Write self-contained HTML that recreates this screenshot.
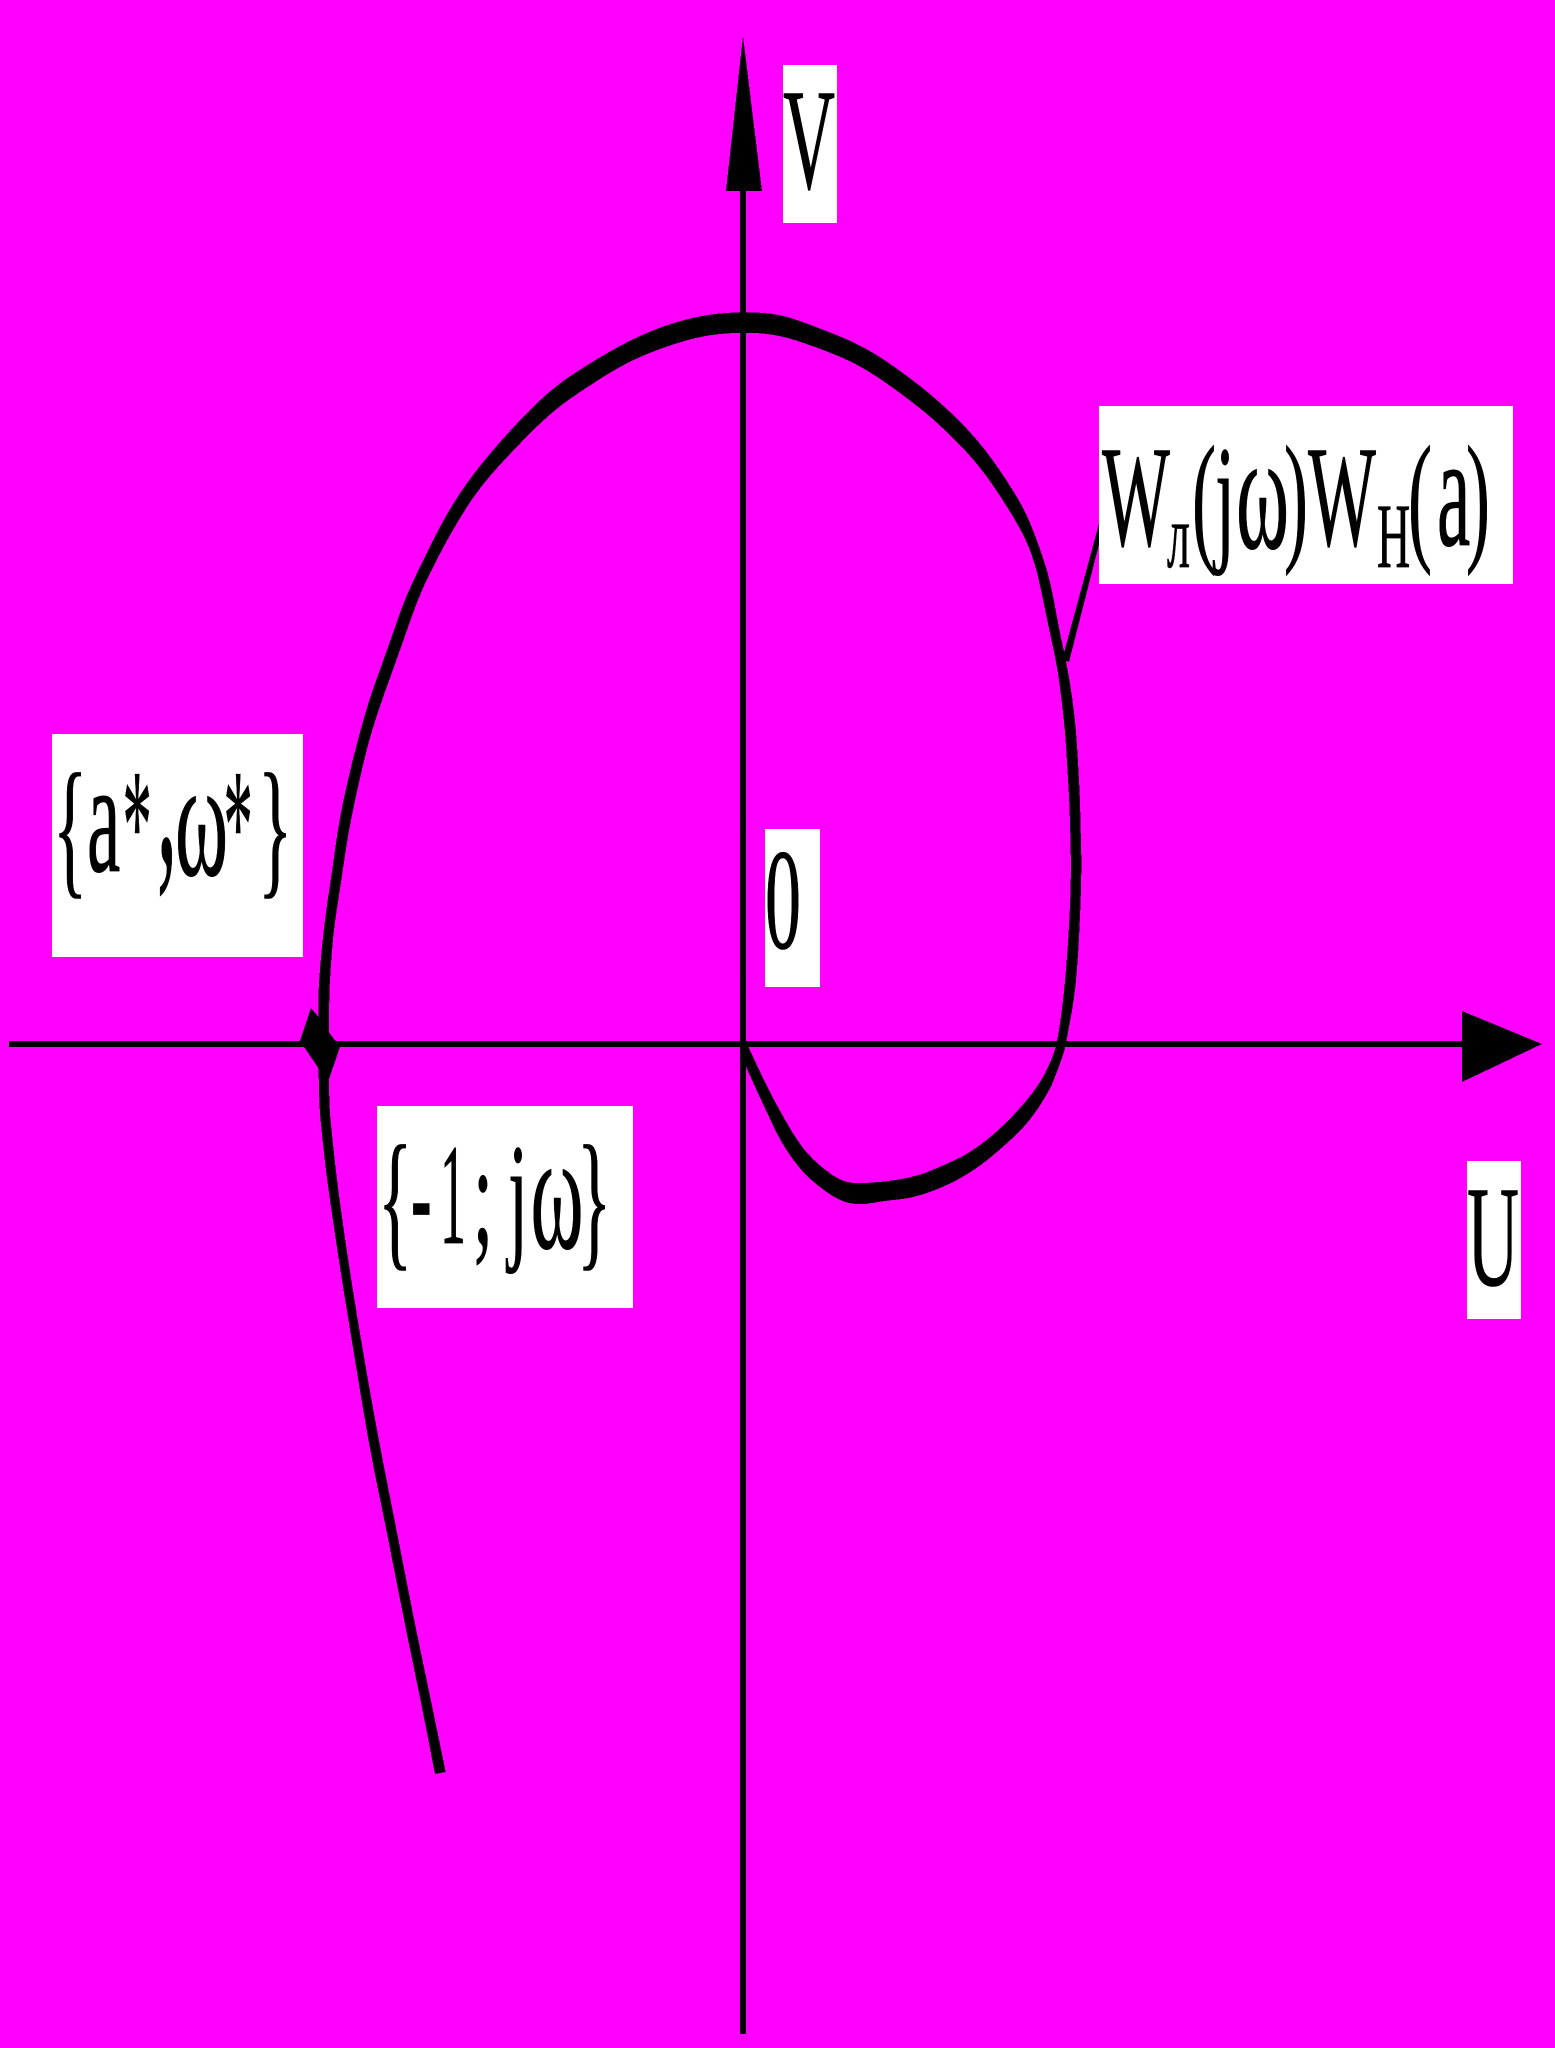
<!DOCTYPE html>
<html><head><meta charset="utf-8"><style>
html,body{margin:0;padding:0;background:#f0f}
svg{display:block}
text{font-family:"Liberation Serif","DejaVu Serif",serif;fill:#000;stroke:#000;stroke-width:.8px;font-size:144px;text-rendering:geometricPrecision}
</style></head><body>
<svg xmlns="http://www.w3.org/2000/svg" width="1555" height="2048" viewBox="0 0 1555 2048">
<rect width="1555" height="2048" fill="#f0f"/>
<g shape-rendering="crispEdges" fill="#000">
<rect x="740" y="150" width="6" height="1884"/>
<rect x="9" y="1041" width="1455" height="6"/>
<polygon points="743,36 762,191 726,191"/>
<polygon points="1462,1011 1542,1044 1462,1082"/>
<polygon points="1100,520 1105,521 1069,662 1062,660"/>
<polygon points="311,1008 300,1041 317,1066 327,1085 340,1047 328,1031 317,1015"/>
<path d="M435,1774 L428.5,1740.5 Q422,1707 413,1663.5 Q404,1620 395.6,1577 Q387.3,1534 378.3,1490.5 Q369.3,1447 362.2,1403.5 Q355,1360 347.9,1316.5 Q340.7,1273 334.4,1230 Q328,1187 325.2,1163.5 Q322.5,1140 320.6,1120 Q318.7,1100 318.4,1050 Q318,1000 319,983.5 Q320,967 321.7,950 Q323.3,933 325.5,916.5 Q327.7,900 330.2,883.5 Q332.7,867 335,850 Q337.3,833 340.3,816.5 Q343.3,800 349.2,775 Q355,750 362,725 Q369,700 375,683.5 Q381,667 387,650 Q393,633 398.75,616.5 Q404.5,600 412.2,583.3 Q420,566.7 433.3,540 Q446.7,513.3 460,493.3 Q473.3,473.3 492.5,450.8 Q511.7,428.3 530.8,409.2 Q550,390 568.3,377.5 Q586.7,365 608.3,352.5 Q630,340 649.2,332 Q668.3,324 687.5,319.2 Q706.7,314.3 725.8,313 Q745,311.7 762.8,312.9 Q780.7,314 800.3,321.2 Q820,328.3 841.7,337.2 Q863.3,346 883.3,359.3 Q903.3,372.7 922.5,388 Q941.7,403.3 960,421.7 Q978.3,440 992.5,460 Q1006.7,480 1016.7,496.7 Q1026.7,513.3 1034.2,533.3 Q1041.7,553.3 1045.8,566.7 Q1050,580 1054.7,605 Q1059.3,630 1063.3,648.5 Q1067.3,667 1070,683.5 Q1072.7,700 1074.5,716.5 Q1076.3,733 1077.3,750 Q1078.3,767 1079.2,783.5 Q1080,800 1080.4,816.5 Q1080.7,833 1081.2,850 Q1081.5,867 1081.1,883.5 Q1080.7,900 1080,916.5 Q1079.3,933 1078.3,950 Q1077.3,967 1075.7,983.5 Q1074,1000 1071.2,1015 Q1068.3,1030 1066.7,1040 Q1065,1050 1061.3,1060 Q1057.7,1070 1053.8,1080 Q1050,1090 1039.2,1106.7 Q1028.3,1123.3 1015,1135.8 Q1001.7,1148.3 988.3,1159.2 Q975,1170 960,1178.3 Q945,1186.7 928.3,1192.5 Q911.7,1198.3 898.3,1199.5 Q885,1200.7 873.3,1202.8 Q861.7,1205 850.8,1203.3 Q840,1201.7 825,1190.8 Q810,1180 800.8,1169.2 Q791.7,1158.3 785,1147.5 Q778.3,1136.7 771.7,1122.5 Q765,1108.3 755.8,1088.3 L746.7,1068.3 L741,1046 L745,1042 L748.3,1046.7 L759.2,1070 Q770,1093.3 784.2,1118.3 Q798.3,1143.3 808.3,1154.2 Q818.3,1165 830,1173.3 Q841.7,1181.7 851.7,1182.8 Q861.7,1184 886.7,1181.2 Q911.7,1178.3 928.3,1171.7 Q945,1165 960,1157.5 Q975,1150 991.7,1135.8 Q1008.3,1121.7 1023.3,1104.2 Q1038.3,1086.7 1045,1073.3 Q1051.7,1060 1054.7,1050 Q1057.7,1040 1060.5,1020 Q1063.3,1000 1064.8,983.5 Q1066.3,967 1067.5,950 Q1068.7,933 1069.5,916.5 Q1070.3,900 1070.7,883.5 Q1071,867 1070.7,850 Q1070.3,833 1069.8,816.5 Q1069.3,800 1068.3,783.5 Q1067.3,767 1066.3,750 Q1065.3,733 1063.5,716.5 Q1061.7,700 1059.5,683.5 Q1057.3,667 1053.3,648.5 Q1049.3,630 1045.5,611.7 Q1041.7,593.3 1039.2,581.7 Q1036.7,570 1031.7,555 Q1026.7,540 1015,520 Q1003.3,500 989.2,480 Q975,460 955.8,440.8 Q936.7,421.7 920,408.3 Q903.3,395 881.7,380 Q860,365 840,356.7 Q820,348.3 800,341.7 Q780,335 763,333.5 Q746,332 725.5,333.5 Q705,335 685,340.8 Q665,346.7 646.7,354.2 Q628.3,361.7 609.2,373.3 Q590,385 570.8,398.3 Q551.7,411.7 533.3,430 Q515,448.3 497.5,467.5 Q480,486.7 466.7,507.5 Q453.3,528.3 441.7,550.5 Q430,572.7 423.8,586.3 Q417.7,600 411.8,616.5 Q406,633 400,650 Q394,667 388,683.5 Q382,700 375,721.5 Q368,743 361.5,771.5 Q355,800 351.7,816.5 Q348.3,833 345.8,850 Q343.3,867 340.8,883.5 Q338.3,900 335.8,916.5 Q333.3,933 332,950 Q330.7,967 329.8,983.5 Q329,1000 328.8,1050 Q328.7,1100 330.5,1120 Q332.5,1140 335.1,1163.5 Q337.7,1187 343.8,1230 Q350,1273 357.2,1316.5 Q364.3,1360 372.2,1403.5 Q380,1447 388.7,1490.5 Q397.3,1534 405.7,1577 Q414,1620 423.2,1663.5 Q432.3,1707 439,1739.5 L445.7,1772 Z"/>
<rect x="783" y="65" width="54" height="158" fill="#fff"/>
<rect x="1099" y="406" width="414" height="178" fill="#fff"/>
<rect x="52" y="734" width="251" height="223" fill="#fff"/>
<rect x="765" y="829" width="55" height="158" fill="#fff"/>
<rect x="377" y="1106" width="256" height="202" fill="#fff"/>
<rect x="1467" y="1161" width="54" height="158" fill="#fff"/>
</g>
<text transform="translate(783,188) scale(.5,1)">V</text>
<text transform="translate(765,948) scale(.5,1)">0</text>
<text transform="translate(1467,1285) scale(.5,1)">U</text>

<text transform="translate(1102,545) scale(.5,1)">W</text>
<text transform="translate(1167,567) scale(.5,1)" style="font-size:92px">л</text>
<text transform="translate(1192,545) scale(.5,1)">(</text>
<text transform="translate(1215,545) scale(.5,1)">j</text>
<text transform="translate(1236,548) scale(.48,1)" style="font-size:168px">ω</text>
<text transform="translate(1284,545) scale(.5,1)">)</text>
<text transform="translate(1308,545) scale(.5,1)">W</text>
<text transform="translate(1377,567) scale(.5,1)" style="font-size:92px">Н</text>
<text transform="translate(1408,545) scale(.5,1)">(</text>
<text transform="translate(1437,545) scale(.47,1)" style="font-size:160px">a</text>
<text transform="translate(1466,545) scale(.5,1)">)</text>

<text transform="translate(53,878) scale(.47,1)" style="font-size:152px">{</text>
<text transform="translate(87,871) scale(.47,1)" style="font-size:160px">a</text>
<text transform="translate(122.5,879) scale(.366,1)" style="font-size:160px">*</text>
<text transform="translate(157,861) scale(.35,1)" style="font-size:228px">,</text>
<text transform="translate(175,875) scale(.48,1)" style="font-size:168px">ω</text>
<text transform="translate(223.5,879) scale(.366,1)" style="font-size:160px">*</text>
<text transform="translate(258,878) scale(.47,1)" style="font-size:152px">}</text>

<text transform="translate(378,1250) scale(.47,1)" style="font-size:152px">{</text>
<text transform="translate(411,1243) scale(.43,1)">-</text>
<text transform="translate(440,1243) scale(.36,1)">1</text>
<text transform="translate(473,1243) scale(.5,1)">;</text>
<text transform="translate(508,1243) scale(.5,1)">j</text>
<text transform="translate(530.5,1248) scale(.48,1)" style="font-size:168px">ω</text>
<text transform="translate(577,1250) scale(.47,1)" style="font-size:152px">}</text>
</svg>
</body></html>
